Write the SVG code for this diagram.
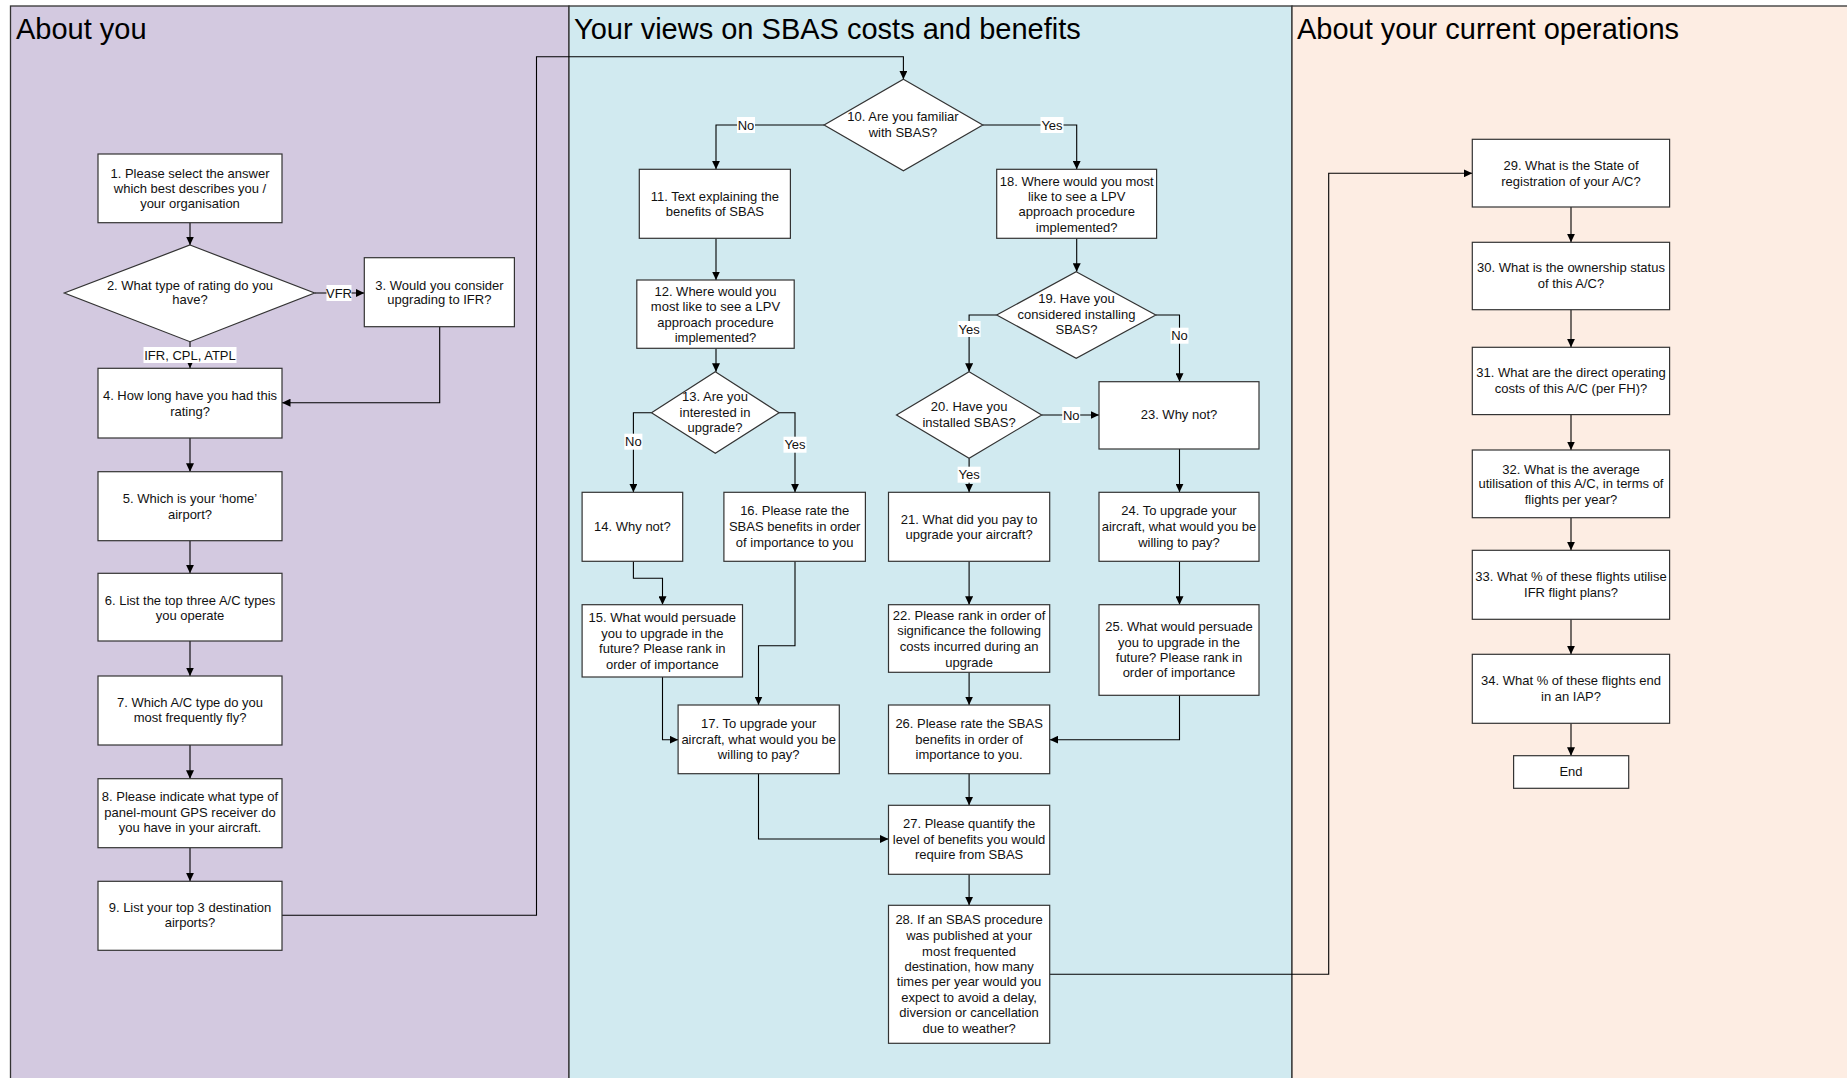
<svg xmlns="http://www.w3.org/2000/svg" width="1847" height="1078" viewBox="0 0 1847 1078">
<defs>
<marker id="arr" markerUnits="userSpaceOnUse" markerWidth="9" markerHeight="8" refX="8.5" refY="4" orient="auto">
<path d="M0,0 L8.5,4 L0,8 z" fill="#000"/>
</marker>
<style>
.box{fill:#fff;stroke:#333;stroke-width:1.2}
.t{font-family:"Liberation Sans",Arial,sans-serif;font-size:13px;text-anchor:middle;fill:#111}
.title{font-family:"Liberation Sans",Arial,sans-serif;font-size:29px;fill:#000}
.c{fill:none;stroke:#000;stroke-width:1.1;marker-end:url(#arr)}
.cn{fill:none;stroke:#000;stroke-width:1.1}
.lb{fill:#fff}
.panel{stroke:#333;stroke-width:1.3}
</style>
</defs>
<rect width="1847" height="1078" fill="#fff"/>
<g id="lanes">
<rect class="panel" x="10.5" y="6" width="558.5" height="1080" fill="#D3C9E0"/>
<rect class="panel" x="569" y="6" width="723" height="1080" fill="#D1EAF0"/>
<rect class="panel" x="1292" y="6" width="560" height="1080" fill="#FDEDE3"/>
<text class="title" x="16" y="39">About you</text>
<text class="title" x="574" y="39">Your views on SBAS costs and benefits</text>
<text class="title" x="1297" y="39">About your current operations</text>
</g>
<g id="connectors">
<path class="c" d="M190,222.7 V245"/>
<path class="c" d="M314.6,293 H364.3"/>
<path class="c" d="M190,341.7 V368.3"/>
<path class="c" d="M439.7,326.7 V402.7 H282"/>
<path class="c" d="M190,438 V471.7"/>
<path class="c" d="M190,540.7 V573.3"/>
<path class="c" d="M190,641 V676"/>
<path class="c" d="M190,745 V778.7"/>
<path class="c" d="M190,847.7 V881.3"/>
<path class="c" d="M282,915.3 H536.5 V56.7 H903.4 V79.3"/>
<path class="c" d="M824.1,125 H716 V169.3"/>
<path class="c" d="M982.8,125 H1076.7 V169.3"/>
<path class="c" d="M716,238.3 V280"/>
<path class="c" d="M716,348.3 V371.7"/>
<path class="c" d="M1076.7,238.3 V271.7"/>
<path class="c" d="M996.7,315 H969.1 V371.7"/>
<path class="c" d="M1155.8,315 H1179.5 V381.7"/>
<path class="c" d="M651.5,412.7 H633.4 V492.3"/>
<path class="c" d="M779.1,412.7 H795 V492.3"/>
<path class="c" d="M1041.7,415 H1099"/>
<path class="c" d="M969.1,458.3 V492.3"/>
<path class="c" d="M633.4,561.3 V578.3 H662.5 V604.7"/>
<path class="c" d="M795,561.3 V645.7 H758.5 V705"/>
<path class="c" d="M662.5,677 V739.7 H678.1"/>
<path class="c" d="M969.1,561.3 V604.7"/>
<path class="c" d="M969.1,672.3 V705"/>
<path class="c" d="M1179.5,449 V492.3"/>
<path class="c" d="M1179.5,561.3 V604.7"/>
<path class="c" d="M1179.5,695.3 V739.7 H1049.7"/>
<path class="c" d="M969.1,773.7 V805.3"/>
<path class="c" d="M758.5,773.7 V839 H888.5"/>
<path class="c" d="M969.1,874.3 V905.3"/>
<path class="c" d="M1049.7,974.3 H1328.7 V173.3 H1472.3"/>
<path class="c" d="M1571,207 V242.3"/>
<path class="c" d="M1571,309.7 V347.3"/>
<path class="c" d="M1571,414.6 V450"/>
<path class="c" d="M1571,517.7 V550.3"/>
<path class="c" d="M1571,619.3 V654.3"/>
<path class="c" d="M1571,723.3 V755.7"/>
<g id="labels">
<rect class="lb" x="326.5" y="285" width="25" height="16"/><text class="t" x="339" y="297.5">VFR</text>
<rect class="lb" x="143.5" y="347" width="93" height="16"/><text class="t" x="190" y="359.5">IFR, CPL, ATPL</text>
<rect class="lb" x="737" y="117" width="18" height="16"/><text class="t" x="746" y="129.5">No</text>
<rect class="lb" x="1040.5" y="117" width="23" height="16"/><text class="t" x="1052" y="129.5">Yes</text>
<rect class="lb" x="957.6" y="321" width="23" height="16"/><text class="t" x="969.1" y="333.5">Yes</text>
<rect class="lb" x="1170.5" y="327.7" width="18" height="16"/><text class="t" x="1179.5" y="340.2">No</text>
<rect class="lb" x="624.4" y="433.7" width="18" height="16"/><text class="t" x="633.4" y="446.2">No</text>
<rect class="lb" x="783.5" y="436.7" width="23" height="16"/><text class="t" x="795" y="449.2">Yes</text>
<rect class="lb" x="1062.2" y="407" width="18" height="16"/><text class="t" x="1071.2" y="419.5">No</text>
<rect class="lb" x="957.6" y="466.7" width="23" height="16"/><text class="t" x="969.1" y="479.2">Yes</text>
</g>
</g>
<g id="n1"><rect class="box" x="98" y="154" width="184" height="68.7"/><text class="t" x="190"><tspan x="190" y="177.5">1. Please select the answer</tspan><tspan x="190" y="193.2">which best describes you /</tspan><tspan x="190" y="208.2">your organisation</tspan></text></g>
<g id="n2"><polygon class="box" points="190,245 314.6,293 190,341.7 64.3,293"/><text class="t"><tspan x="190" y="289.5">2. What type of rating do you</tspan><tspan x="190" y="304.2">have?</tspan></text></g>
<g id="n3"><rect class="box" x="364.3" y="257.7" width="150.1" height="69"/><text class="t"><tspan x="439.4" y="289.5">3. Would you consider</tspan><tspan x="439.4" y="304.2">upgrading to IFR?</tspan></text></g>
<g id="n4"><rect class="box" x="98" y="368.3" width="184" height="69.7"/><text class="t"><tspan x="190" y="400.2">4. How long have you had this</tspan><tspan x="190" y="416.2">rating?</tspan></text></g>
<g id="n5"><rect class="box" x="98" y="471.7" width="184" height="69"/><text class="t"><tspan x="190" y="502.8">5. Which is your ‘home’</tspan><tspan x="190" y="518.8">airport?</tspan></text></g>
<g id="n6"><rect class="box" x="98" y="573.3" width="184" height="67.7"/><text class="t"><tspan x="190" y="604.5">6. List the top three A/C types</tspan><tspan x="190" y="619.5">you operate</tspan></text></g>
<g id="n7"><rect class="box" x="98" y="676" width="184" height="69"/><text class="t"><tspan x="190" y="706.5">7. Which A/C type do you</tspan><tspan x="190" y="722.2">most frequently fly?</tspan></text></g>
<g id="n8"><rect class="box" x="98" y="778.7" width="184" height="69"/><text class="t"><tspan x="190" y="801.2">8. Please indicate what type of</tspan><tspan x="190" y="817.2">panel-mount GPS receiver do</tspan><tspan x="190" y="832.2">you have in your aircraft.</tspan></text></g>
<g id="n9"><rect class="box" x="98" y="881.3" width="184" height="69"/><text class="t"><tspan x="190" y="912.2">9. List your top 3 destination</tspan><tspan x="190" y="927.2">airports?</tspan></text></g>
<g id="n10"><polygon class="box" points="903.4,79.3 982.8,125 903.4,170.7 824.1,125"/><text class="t"><tspan x="903" y="121.2">10. Are you familiar</tspan><tspan x="903" y="136.8">with SBAS?</tspan></text></g>
<g id="n11"><rect class="box" x="639.3" y="169.3" width="151.1" height="69"/><text class="t"><tspan x="714.9" y="200.5">11. Text explaining the</tspan><tspan x="714.9" y="216.2">benefits of SBAS</tspan></text></g>
<g id="n12"><rect class="box" x="636.8" y="280" width="157.4" height="68.3"/><text class="t"><tspan x="715.5" y="295.5">12. Where would you</tspan><tspan x="715.5" y="311.2">most like to see a LPV</tspan><tspan x="715.5" y="326.5">approach procedure</tspan><tspan x="715.5" y="342.2">implemented?</tspan></text></g>
<g id="n13"><polygon class="box" points="715.3,371.7 779.1,412.7 715.3,453.3 651.5,412.7"/><text class="t"><tspan x="715" y="401.2">13. Are you</tspan><tspan x="715" y="417.2">interested in</tspan><tspan x="715" y="432.2">upgrade?</tspan></text></g>
<g id="n14"><rect class="box" x="582.1" y="492.3" width="100.6" height="69"/><text class="t" x="632.4" y="531.2">14. Why not?</text></g>
<g id="n15"><rect class="box" x="582.1" y="604.7" width="160.4" height="72.3"/><text class="t"><tspan x="662.3" y="622.2">15. What would persuade</tspan><tspan x="662.3" y="637.5">you to upgrade in the</tspan><tspan x="662.3" y="653.2">future? Please rank in</tspan><tspan x="662.3" y="668.5">order of importance</tspan></text></g>
<g id="n16"><rect class="box" x="723.9" y="492.3" width="141.5" height="69"/><text class="t"><tspan x="794.7" y="515.2">16. Please rate the</tspan><tspan x="794.7" y="530.8">SBAS benefits in order</tspan><tspan x="794.7" y="546.5">of importance to you</tspan></text></g>
<g id="n17"><rect class="box" x="678.1" y="705" width="161.2" height="68.7"/><text class="t"><tspan x="758.7" y="728.2">17. To upgrade your</tspan><tspan x="758.7" y="744.2">aircraft, what would you be</tspan><tspan x="758.7" y="759.2">willing to pay?</tspan></text></g>
<g id="n18"><rect class="box" x="996.7" y="169.3" width="159.9" height="69"/><text class="t"><tspan x="1076.7" y="185.5">18. Where would you most</tspan><tspan x="1076.7" y="200.5">like to see a LPV</tspan><tspan x="1076.7" y="216.2">approach procedure</tspan><tspan x="1076.7" y="231.5">implemented?</tspan></text></g>
<g id="n19"><polygon class="box" points="1076.2,271.7 1155.8,315 1076.2,358.3 996.7,315"/><text class="t"><tspan x="1076.5" y="303.2">19. Have you</tspan><tspan x="1076.5" y="318.5">considered installing</tspan><tspan x="1076.5" y="333.8">SBAS?</tspan></text></g>
<g id="n20"><polygon class="box" points="969.1,371.7 1041.7,415 969.1,458.3 896.5,415"/><text class="t"><tspan x="969.1" y="411.2">20. Have you</tspan><tspan x="969.1" y="426.8">installed SBAS?</tspan></text></g>
<g id="n21"><rect class="box" x="888.5" y="492.3" width="161.2" height="69"/><text class="t"><tspan x="969.1" y="523.5">21. What did you pay to</tspan><tspan x="969.1" y="539.2">upgrade your aircraft?</tspan></text></g>
<g id="n22"><rect class="box" x="888.5" y="604.7" width="161.2" height="67.6"/><text class="t"><tspan x="969.1" y="620.2">22. Please rank in order of</tspan><tspan x="969.1" y="635.2">significance the following</tspan><tspan x="969.1" y="650.5">costs incurred during an</tspan><tspan x="969.1" y="666.5">upgrade</tspan></text></g>
<g id="n23"><rect class="box" x="1099" y="381.7" width="160" height="67.3"/><text class="t" x="1179" y="418.8">23. Why not?</text></g>
<g id="n24"><rect class="box" x="1099" y="492.3" width="160" height="69"/><text class="t"><tspan x="1179" y="515.2">24. To upgrade your</tspan><tspan x="1179" y="530.8">aircraft, what would you be</tspan><tspan x="1179" y="546.5">willing to pay?</tspan></text></g>
<g id="n25"><rect class="box" x="1099" y="604.7" width="160" height="90.6"/><text class="t"><tspan x="1179" y="631.2">25. What would persuade</tspan><tspan x="1179" y="646.5">you to upgrade in the</tspan><tspan x="1179" y="661.8">future? Please rank in</tspan><tspan x="1179" y="677.2">order of importance</tspan></text></g>
<g id="n26"><rect class="box" x="888.5" y="705" width="161.2" height="68.7"/><text class="t"><tspan x="969.1" y="728.2">26. Please rate the SBAS</tspan><tspan x="969.1" y="744.2">benefits in order of</tspan><tspan x="969.1" y="759.2">importance to you.</tspan></text></g>
<g id="n27"><rect class="box" x="888.5" y="805.3" width="161.2" height="69"/><text class="t"><tspan x="969.1" y="828.2">27. Please quantify the</tspan><tspan x="969.1" y="843.8">level of benefits you would</tspan><tspan x="969.1" y="859.2">require from SBAS</tspan></text></g>
<g id="n28"><rect class="box" x="888.5" y="905.3" width="161.2" height="138"/><text class="t"><tspan x="969.1" y="924.2">28. If an SBAS procedure</tspan><tspan x="969.1" y="940.2">was published at your</tspan><tspan x="969.1" y="955.5">most frequented</tspan><tspan x="969.1" y="971.2">destination, how many</tspan><tspan x="969.1" y="986.2">times per year would you</tspan><tspan x="969.1" y="1002.2">expect to avoid a delay,</tspan><tspan x="969.1" y="1017.2">diversion or cancellation</tspan><tspan x="969.1" y="1032.8">due to weather?</tspan></text></g>
<g id="n29"><rect class="box" x="1472.3" y="139.3" width="197.3" height="67.7"/><text class="t"><tspan x="1571" y="169.8">29. What is the State of</tspan><tspan x="1571" y="185.5">registration of your A/C?</tspan></text></g>
<g id="n30"><rect class="box" x="1472.3" y="242.3" width="197.3" height="67.4"/><text class="t"><tspan x="1571" y="272.2">30. What is the ownership status</tspan><tspan x="1571" y="288.2">of this A/C?</tspan></text></g>
<g id="n31"><rect class="box" x="1472.3" y="347.3" width="197.3" height="67.3"/><text class="t"><tspan x="1571" y="377.2">31. What are the direct operating</tspan><tspan x="1571" y="392.8">costs of this A/C (per FH)?</tspan></text></g>
<g id="n32"><rect class="box" x="1472.3" y="450" width="197.3" height="67.7"/><text class="t"><tspan x="1571" y="473.5">32. What is the average</tspan><tspan x="1571" y="487.8">utilisation of this A/C, in terms of</tspan><tspan x="1571" y="503.5">flights per year?</tspan></text></g>
<g id="n33"><rect class="box" x="1472.3" y="550.3" width="197.3" height="69"/><text class="t"><tspan x="1571" y="581.2">33. What % of these flights utilise</tspan><tspan x="1571" y="596.5">IFR flight plans?</tspan></text></g>
<g id="n34"><rect class="box" x="1472.3" y="654.3" width="197.3" height="69"/><text class="t"><tspan x="1571" y="685.2">34. What % of these flights end</tspan><tspan x="1571" y="701.2">in an IAP?</tspan></text></g>
<g id="end"><rect class="box" x="1513.6" y="755.7" width="115.1" height="32.6"/><text class="t" x="1571" y="776.2">End</text></g>
</svg>
